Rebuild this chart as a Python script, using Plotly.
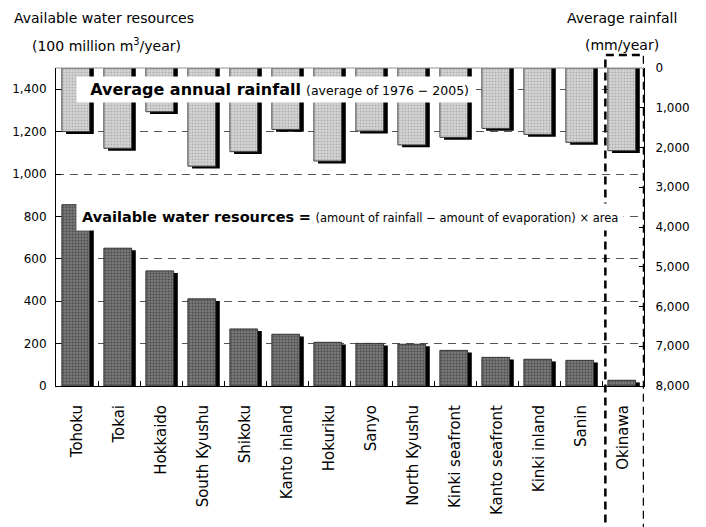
import plotly.graph_objects as go

regions = ["Tohoku", "Tokai", "Hokkaido", "South Kyushu", "Shikoku", "Kanto inland",
           "Hokuriku", "Sanyo", "North Kyushu", "Kinki seafront", "Kanto seafront",
           "Kinki inland", "Sanin", "Okinawa"]
water_resources = [855, 650, 543, 411, 269, 244, 206, 201, 197, 168, 135, 126, 121, 27]
rainfall = [1600, 2020, 1100, 2470, 2105, 1545, 2340, 1585, 1935, 1745, 1520, 1670, 1870, 2080]
left_ticks = [0, 200, 400, 600, 800, 1000, 1200, 1400]
right_ticks = [0, 1000, 2000, 3000, 4000, 5000, 6000, 7000, 8000]

FONT = "DejaVu Sans"
BW = 0.66
fig = go.Figure()

# shadows
fig.add_trace(go.Bar(x=regions, y=[v - 10 for v in water_resources], width=BW, offset=-0.26,
                     marker=dict(color="black", line=dict(width=0)), yaxis="y", hoverinfo="skip"))
fig.add_trace(go.Bar(x=regions, y=[v + 60 for v in rainfall], base=0, width=BW, offset=-0.26,
                     marker=dict(color="black", line=dict(width=0)), yaxis="y2", hoverinfo="skip"))
# main bars
fig.add_trace(go.Bar(x=regions, y=water_resources, width=BW, offset=-0.36, yaxis="y",
                     marker=dict(color="#858585", line=dict(color="#303030", width=1),
                                 pattern=dict(shape=".", fillmode="overlay", fgcolor="#202020",
                                              size=3, solidity=0.5))))
fig.add_trace(go.Bar(x=regions, y=rainfall, base=0, width=BW, offset=-0.36, yaxis="y2",
                     marker=dict(color="#d6d6d6", line=dict(color="#404040", width=1),
                                 pattern=dict(shape=".", fillmode="overlay", fgcolor="#8a8a8a",
                                              size=3, solidity=0.4))))

fig.update_layout(
    width=706, height=527, barmode="overlay", showlegend=False,
    margin=dict(l=52, r=62, t=68, b=141),
    paper_bgcolor="white", plot_bgcolor="white",
    font=dict(family=FONT, size=12, color="black"),
    xaxis=dict(type="category", range=[-0.5, 13.5], ticks="inside", tickson="boundaries",
               ticklen=5, tickcolor="black", showline=True, linecolor="black", linewidth=1,
               tickangle=-90, tickfont=dict(size=15, family=FONT), showgrid=False,
               ticklabelstandoff=12),
    yaxis=dict(range=[0, 1500], tickvals=left_ticks, tickformat=",", ticks="inside",
               ticklen=5, tickcolor="black", showline=True, linecolor="black", linewidth=1,
               showgrid=True, gridcolor="#555555", griddash="8px,6px", gridwidth=1,
               zeroline=False, tickfont=dict(size=12), ticklabelstandoff=6),
    yaxis2=dict(range=[8000, 0], tickvals=right_ticks, tickformat=",", overlaying="y",
                side="right", ticks="inside", ticklen=5, tickcolor="black", showline=True,
                linecolor="black", linewidth=1, showgrid=False, zeroline=False,
                tickfont=dict(size=12), ticklabelstandoff=8),
)

# top border
fig.add_shape(type="line", xref="paper", yref="paper", x0=0, x1=1, y0=1, y1=1,
              line=dict(color="#909090", width=1))
# Okinawa dashed box
fig.add_shape(type="path", xref="x", yref="paper",
              path="M 12.58,-0.47 L 12.58,1.041 L 13.5,1.041 L 13.5,-0.47",
              line=dict(color="black", width=2.5, dash="8px,5px"))

fig.add_annotation(xref="paper", yref="paper", x=0.0338, y=0.932, xanchor="left",
                   yanchor="middle", showarrow=False, bgcolor="white", borderpad=3,
                   text="&nbsp;&nbsp;<b>Average annual rainfall</b> <span style='font-size:12.5px'>(average of 1976 − 2005)</span>",
                   font=dict(size=16, family=FONT))
fig.add_annotation(xref="paper", yref="paper", x=0.0338, y=0.53, xanchor="left",
                   yanchor="middle", showarrow=False, bgcolor="white", borderpad=5,
                   text="<b>Available water resources</b> <b>=</b> <span style='font-size:11.5px'>(amount of rainfall − amount of evaporation) × area</span>",
                   font=dict(size=14.5, family=FONT))

# axis titles
fig.add_annotation(xref="paper", yref="paper", x=-0.074, y=1.157, xanchor="left", yanchor="middle",
                   showarrow=False, text="Available water resources", font=dict(size=14))
fig.add_annotation(xref="paper", yref="paper", x=-0.044, y=1.072, xanchor="left", yanchor="middle",
                   showarrow=False, text="(100 million m<sup>3</sup>/year)", font=dict(size=14))
fig.add_annotation(xref="paper", yref="paper", x=0.963, y=1.157, xanchor="center", yanchor="middle",
                   showarrow=False, text="Average rainfall", font=dict(size=14))
fig.add_annotation(xref="paper", yref="paper", x=0.963, y=1.072, xanchor="center", yanchor="middle",
                   showarrow=False, text="(mm/year)", font=dict(size=14))

fig.write_html("out.html")
